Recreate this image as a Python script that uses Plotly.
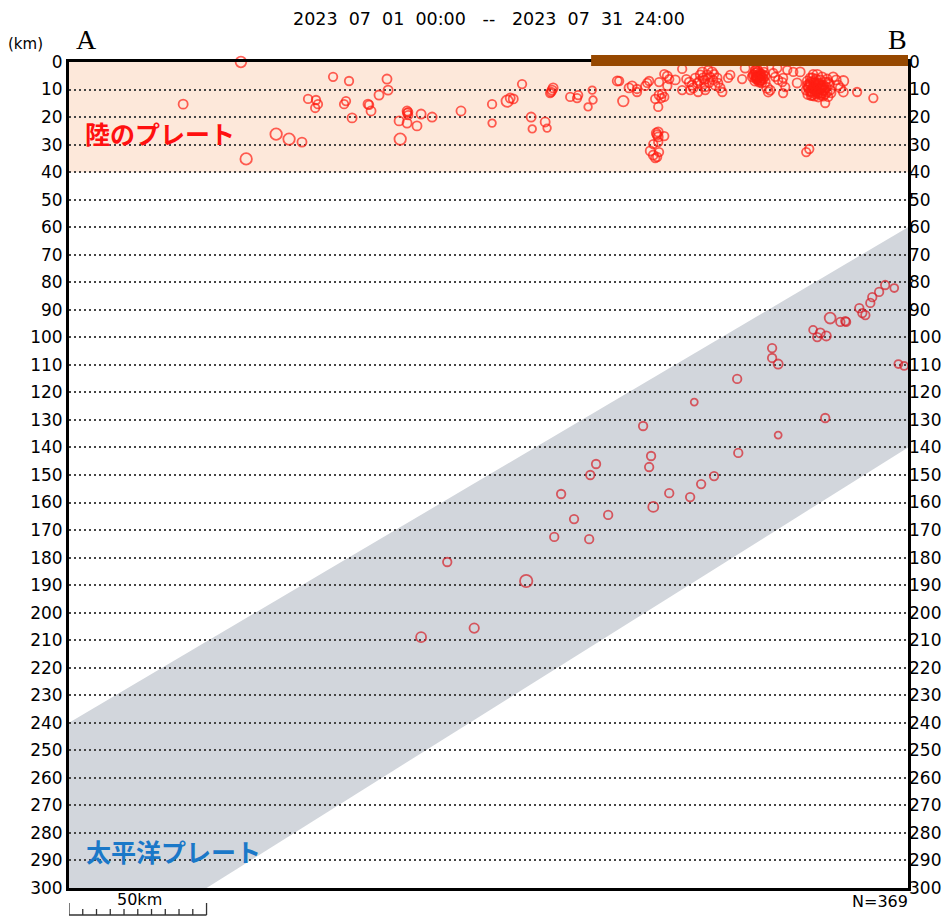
import plotly.graph_objects as go

# ---- data (horizontal distance from A in km, depth in km, magnitude class) ----
crust_x = [62.5, 41.5, 96.0, 101.8, 86.9, 89.8, 90.5, 89.5, 100.7, 100.0, 102.9, 75.3, 80.0, 84.7, 64.4,
           115.6, 116.0, 112.7, 108.7, 109.1, 109.8, 122.9, 123.3, 123.3, 122.9, 120.0, 122.9, 126.5, 128.0,
           132.0, 120.4, 142.5, 153.8, 153.8, 159.3, 160.4, 161.5, 164.7, 168.0, 168.4, 173.1, 173.8, 175.6,
           176.0, 175.3, 174.9, 182.2, 185.1, 184.7, 190.2, 190.5, 188.7,
           199.3, 200.0, 201.5, 203.6, 204.7, 206.5, 206.5, 209.5, 210.2, 210.9, 214.5, 213.1, 214.5, 215.6,
           216.4, 215.3, 214.2, 216.4, 217.5, 218.2, 217.5, 220.4, 222.9, 222.9,
           224.4, 225.5, 226.5, 226.9, 228.4, 228.7, 229.5, 230.2, 230.5, 231.3, 232.0, 232.4, 233.8, 234.2,
           234.9, 235.6, 236.0, 236.7, 237.5, 231.3, 227.6, 225.8, 240.4, 239.6, 244.7, 245.8, 250.2,
           231.0, 233.1, 229.1, 234.5, 232.7, 230.9,
           214.2, 213.5, 213.8, 214.2, 216.4, 212.4, 214.2, 211.3, 212.4, 213.1, 214.5, 213.8,
           248.7, 250.2, 251.3, 249.5, 252.4, 253.1, 253.8, 254.2, 254.9, 256.0, 257.5, 256.7, 257.8, 259.3,
           259.6, 261.1, 260.4, 259.6, 263.3, 264.7, 265.8,
           249.5, 250.5, 251.5, 252.0, 250.9, 249.8, 251.8, 253.0, 252.7, 250.2, 248.4, 251.1,
           249.1, 249.8, 250.5, 251.1, 251.6, 252.4, 249.3, 250.0, 250.7, 251.5, 252.2, 250.4, 251.3, 249.6,
           268.4, 268.7, 269.5, 270.2, 270.5, 271.3, 272.0, 272.4, 273.1, 273.8, 274.2, 274.9, 275.6, 276.0,
           274.9, 276.7, 277.8, 278.9, 279.6, 280.4, 281.5, 281.5, 286.5, 292.4, 268.0, 269.1,
           269.1, 270.9, 271.6, 272.7, 273.5, 274.5, 271.3, 269.8, 268.0, 270.2, 272.4, 274.2, 275.3, 276.4,
           275.6, 273.8, 271.6, 270.5, 269.5, 268.4, 272.0, 273.1, 274.9, 277.1, 276.0,
           268.9, 269.6, 270.4, 271.1, 271.8, 272.5, 273.3, 274.0, 274.7, 269.3, 270.0, 270.7, 271.5, 272.2,
           272.9, 273.6, 274.4, 268.6, 269.8, 271.0, 272.3, 273.5, 270.6, 271.9]
crust_d = [0.0, 15.3, 5.4, 6.9, 13.4, 13.8, 15.3, 16.7, 14.2, 15.3, 20.3, 26.2, 28.0, 29.1, 35.2,
           6.2, 10.2, 12.0, 15.3, 15.6, 17.8, 17.8, 18.2, 19.3, 18.5, 21.4, 22.2, 23.2, 18.9,
           20.0, 28.0, 17.8, 15.3, 22.2, 14.2, 13.1, 13.4, 8.0, 20.0, 24.3, 21.8, 24.0, 10.2,
           9.4, 10.9, 11.3, 12.7, 12.0, 13.1, 10.2, 13.8, 16.3,
           6.9, 6.9, 14.2, 9.4, 8.7, 10.9, 9.8, 8.7, 7.6, 6.9, 7.3, 13.4, 12.0, 11.6,
           12.7, 13.1, 16.3, 4.4, 5.1, 6.2, 8.7, 6.5, 2.5, 10.2,
           6.2, 7.3, 8.4, 9.4, 7.6, 10.9, 4.7, 3.6, 5.8, 9.1, 4.7, 2.9, 3.6, 6.5,
           8.4, 5.8, 7.6, 9.4, 10.9, 10.2, 5.8, 10.2, 4.7, 5.8, 6.2, 2.2, 5.4,
           6.5, 5.4, 6.9, 4.4, 7.6, 8.0,
           25.4, 25.8, 26.5, 27.2, 26.9, 29.8, 29.1, 32.3, 33.8, 34.9, 32.7, 34.5,
           4.7, 5.8, 6.5, 2.9, 2.2, 7.3, 9.4, 10.9, 10.2, 4.0, 2.2, 5.4, 6.5, 7.3,
           5.8, 2.9, 9.1, 11.3, 3.6, 7.6, 3.6,
           4.0, 3.3, 4.4, 5.8, 7.3, 6.2, 7.6, 5.1, 3.6, 2.5, 5.4, 5.1,
           4.7, 5.1, 5.6, 4.2, 6.7, 6.0, 6.9, 3.8, 4.9, 5.3, 4.6, 6.4, 7.0, 3.1,
           8.4, 9.4, 7.3, 5.8, 9.1, 10.2, 4.7, 7.6, 6.5, 9.4, 8.4, 7.3, 10.9, 12.7,
           14.9, 10.2, 5.4, 6.5, 8.4, 9.4, 6.9, 10.9, 10.9, 13.1, 32.7, 31.6,
           8.0, 7.6, 8.7, 9.8, 11.3, 10.2, 11.6, 10.5, 10.2, 12.0, 12.7, 12.4, 9.1, 8.0,
           6.2, 5.4, 6.2, 4.4, 5.8, 6.9, 10.5, 8.7, 11.6, 11.3, 7.3,
           9.0, 8.2, 9.3, 8.0, 9.5, 8.4, 9.6, 8.9, 9.8, 10.7, 11.0, 9.9, 10.8, 11.2,
           10.1, 11.5, 10.4, 11.8, 12.2, 12.4, 11.4, 12.0, 7.0, 7.8]
crust_m = [2.2, 1.7, 1.5, 1.5, 1.5, 1.5, 1.5, 1.5, 1.5, 1.5, 1.7, 2.5, 2.5, 1.7, 2.5,
           1.7, 1.7, 1.7, 1.7, 1.5, 1.7, 1.7, 1.5, 1.5, 1.5, 1.7, 1.7, 1.7, 1.7,
           1.7, 2.5, 1.7, 1.5, 1.2, 2.5, 1.7, 1.7, 1.5, 1.7, 1.2, 1.7, 1.2, 1.7,
           1.7, 1.5, 1.5, 1.5, 1.5, 1.5, 1.2, 1.2, 1.2,
           1.7, 1.5, 2.2, 1.7, 1.7, 1.5, 1.5, 1.5, 1.5, 1.5, 1.5, 1.5, 1.7, 1.5,
           1.5, 1.5, 1.5, 1.5, 1.7, 1.5, 1.5, 1.7, 1.5, 1.5,
           1.5, 1.7, 1.7, 1.7, 1.5, 1.5, 1.7, 1.7, 1.7, 1.5, 1.7, 1.5, 1.7, 1.5,
           1.7, 1.7, 1.5, 1.7, 1.5, 1.5, 1.5, 1.5, 1.5, 1.5, 1.5, 1.7, 2.0,
           1.5, 1.5, 1.5, 1.5, 1.5, 1.5,
           1.7, 1.7, 1.7, 1.7, 1.5, 1.5, 1.5, 1.7, 1.7, 1.5, 1.5, 1.5,
           1.7, 2.2, 1.7, 1.7, 1.5, 1.7, 2.0, 1.7, 1.7, 1.5, 1.5, 1.5, 1.5, 1.5,
           1.5, 1.5, 1.5, 1.5, 1.5, 1.7, 1.7,
           1.7, 1.7, 1.7, 1.7, 1.7, 1.7, 1.7, 1.7, 1.5, 1.5, 1.7, 1.7,
           1.7, 1.7, 1.7, 1.7, 1.7, 1.7, 1.7, 1.7, 1.7, 1.7, 1.7, 1.7, 1.7, 1.7,
           1.7, 1.7, 1.7, 1.7, 1.7, 1.7, 2.0, 1.7, 1.7, 1.7, 1.7, 1.7, 1.7, 1.5,
           1.5, 1.7, 1.7, 1.7, 1.7, 1.7, 2.0, 1.7, 1.5, 1.5, 1.5, 1.5,
           1.7, 1.7, 1.7, 1.7, 1.7, 1.7, 1.7, 1.7, 1.7, 1.7, 1.7, 1.7, 1.7, 1.7,
           1.7, 1.7, 1.7, 1.5, 1.7, 1.7, 1.7, 1.7, 1.7, 1.5, 1.7,
           1.7, 1.7, 1.7, 1.7, 1.7, 1.7, 1.7, 1.7, 1.7, 1.7, 1.7, 1.7, 1.7, 1.7,
           1.7, 1.7, 1.7, 1.7, 1.7, 1.7, 1.7, 1.7, 1.7, 1.7]

slab_x = [128.0, 147.3, 137.5, 166.2, 176.4, 183.6, 178.9, 189.1, 189.5, 191.6, 196.0, 208.7, 211.6,
          210.9, 212.4, 218.2, 225.8, 229.8, 234.5, 227.3, 243.3, 242.9, 255.6, 255.6, 257.8, 257.8,
          274.9, 270.5, 272.0, 273.1, 275.3, 276.7, 280.4, 282.2, 282.5, 287.3, 288.4, 289.5, 291.3,
          292.0, 294.5, 296.7, 300.0, 301.5, 303.6]
slab_d = [208.9, 205.6, 181.6, 188.5, 172.5, 166.0, 156.9, 173.3, 150.0, 146.0, 164.5, 132.2, 143.1,
          147.1, 161.6, 156.6, 158.0, 153.3, 150.4, 123.5, 142.0, 115.1, 103.9, 107.5, 109.7, 135.5,
          129.3, 97.3, 99.9, 98.4, 99.5, 93.0, 94.4, 94.1, 94.4, 89.4, 91.2, 91.9, 87.5,
          85.4, 83.5, 81.0, 82.1, 109.7, 110.4]
slab_m = [2.0, 1.8, 1.5, 2.8, 1.5, 1.5, 1.5, 1.5, 1.5, 1.5, 1.5, 1.5, 1.5,
          1.5, 2.0, 1.5, 1.5, 1.5, 1.5, 1.0, 1.5, 1.5, 1.5, 1.5, 1.7, 1.0,
          1.5, 1.3, 1.5, 1.7, 1.7, 2.3, 1.5, 1.5, 1.5, 1.5, 1.5, 1.5, 1.5,
          1.5, 1.5, 1.5, 1.3, 1.3, 1.3]

depth_ticks = list(range(0, 301, 10))
NB = "\u00a0"
title_text = (NB * 2).join(["2023", "07", "01", "00:00"]) + NB * 3 + "--" + NB * 3 + \
             (NB * 2).join(["2023", "07", "31", "24:00"])
n_events = 369
scale_km = 50
X_MAX = 305
land_plate = (0, 40)
pacific_upper = [(0, 240), (305, 60)]
pacific_lower = [(305, 140), (50, 300)]
land_bar = (189.8, 305.8)

def msize(m):
    return 4.0 + 3.0 * m

PLOT_H = 826.0  # px height of plotting area (for paper-relative offsets)

fig = go.Figure()
fig.add_trace(go.Scatter(
    x=crust_x, y=crust_d, mode="markers", cliponaxis=False, hoverinfo="skip",
    marker=dict(symbol="circle-open", size=[msize(m) for m in crust_m],
                color="rgb(255,30,18)", line=dict(width=1.8)),
    showlegend=False))
fig.add_trace(go.Scatter(
    x=slab_x, y=slab_d, mode="markers", cliponaxis=False, hoverinfo="skip",
    marker=dict(symbol="circle-open", size=[msize(m) for m in slab_m],
                color="rgb(214,30,38)", line=dict(width=1.8)),
    showlegend=False))
fig.add_trace(go.Scatter(x=[0], y=[0], yaxis="y2", mode="markers",
                         marker=dict(opacity=0), hoverinfo="skip", showlegend=False))

shapes = []
shapes.append(dict(type="rect", xref="x", yref="y", x0=0, x1=X_MAX,
                   y0=land_plate[0], y1=land_plate[1], fillcolor="#fde8da",
                   line=dict(width=0), layer="below"))
pts = pacific_upper + pacific_lower
path = "M " + " L ".join(f"{a},{b}" for a, b in pts) + " L 0,300 Z"
shapes.append(dict(type="path", xref="x", yref="y", path=path,
                   fillcolor="#d2d6dc", line=dict(width=0), layer="below"))
# brown land bar (paper y so it is not clipped above the plot)
shapes.append(dict(type="rect", xref="x", yref="paper", x0=land_bar[0], x1=land_bar[1],
                   y0=1 - 4.0 / PLOT_H, y1=1 + 7.0 / PLOT_H,
                   fillcolor="#964800", line=dict(width=0), layer="above"))
# scale bar
yb = -27.0 / PLOT_H
shapes.append(dict(type="line", xref="x", yref="paper", x0=0, x1=scale_km, y0=yb, y1=yb,
                   line=dict(color="#333", width=1.5)))
for k in range(0, scale_km + 1, 5):
    top = -15.0 / PLOT_H if k in (0, scale_km) else -21.0 / PLOT_H
    shapes.append(dict(type="line", xref="x", yref="paper", x0=k, x1=k, y0=yb, y1=top,
                       line=dict(color="#333", width=1.3)))

tick_font = dict(family="DejaVu Sans", size=17, color="black")
def ann(text, x, y, font, xanchor="center"):
    return dict(text=text, x=x, y=y, xref="paper", yref="paper", showarrow=False,
                xanchor=xanchor, yanchor="middle", font=font)

annotations = [
    ann(title_text, 0.5, 1 + 43.0 / PLOT_H, dict(family="DejaVu Sans", size=17.5, color="black")),
    ann("(km)", -44.0 / 839, 1 + 18.0 / PLOT_H, dict(family="DejaVu Sans", size=15, color="black")),
    ann("A", 17.0 / 839, 1 + 22.0 / PLOT_H,
        dict(family="Liberation Serif, DejaVu Serif", size=28, color="black")),
    ann("B", 828.0 / 839, 1 + 22.0 / PLOT_H,
        dict(family="Liberation Serif, DejaVu Serif", size=28, color="black")),
    ann("<b>陸のプレート</b>", 14.0 / 839, 1 - 71.0 / PLOT_H,
        dict(family="Noto Sans CJK JP", size=25, color="#ff1010"), xanchor="left"),
    ann("<b>太平洋プレート</b>", 15.0 / 839, 37.0 / PLOT_H,
        dict(family="Noto Sans CJK JP", size=25, color="#1a78c8"), xanchor="left"),
    ann(f"{scale_km}km", 70.0 / 839, -12.0 / PLOT_H, dict(family="DejaVu Sans", size=16, color="black")),
    ann(f"N={n_events}", 811.0 / 839, -13.0 / PLOT_H, dict(family="DejaVu Sans", size=16, color="black")),
]

fig.update_layout(
    width=944, height=910,
    margin=dict(l=61, r=44, t=54, b=30),
    paper_bgcolor="white", plot_bgcolor="white",
    shapes=shapes, annotations=annotations,
    xaxis=dict(range=[0, X_MAX], showgrid=False, zeroline=False, showticklabels=False,
               ticks="", showline=True, linecolor="black", linewidth=3, mirror=True),
    yaxis=dict(range=[300, 0], tickvals=depth_ticks, ticktext=[str(v) for v in depth_ticks],
               showgrid=True, gridcolor="#444444", gridwidth=1.5, griddash="2px,3px",
               zeroline=False, ticks="", showline=True, linecolor="black", linewidth=3,
               mirror=True, tickfont=tick_font),
    yaxis2=dict(range=[300, 0], tickvals=depth_ticks, ticktext=[str(v) for v in depth_ticks],
                overlaying="y", side="right", showgrid=False, zeroline=False, ticks="",
                showline=False, tickfont=tick_font),
)

fig.write_html("out.html")
